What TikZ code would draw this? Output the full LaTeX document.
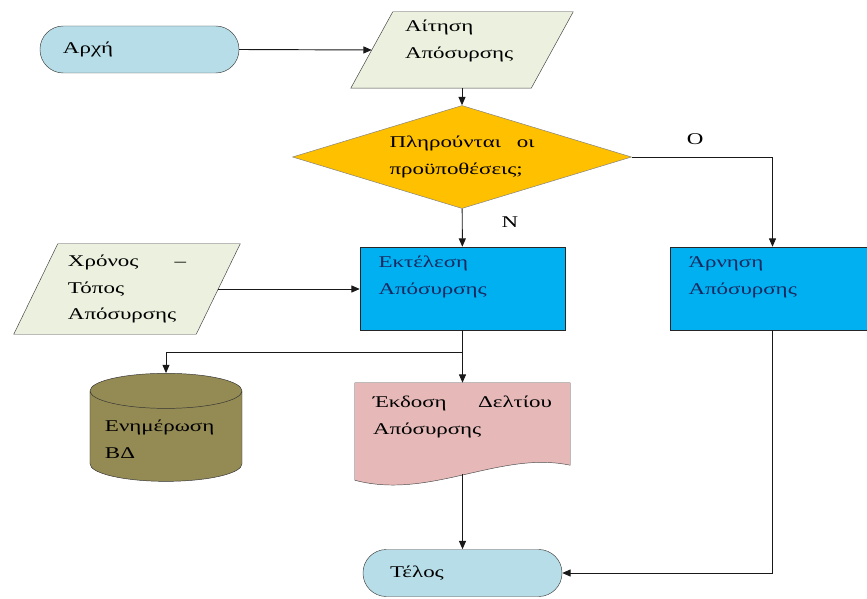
\documentclass[tikz,border=0pt]{standalone}
\usepackage{fontspec}
\setmainfont{Liberation Serif}[FakeStretch=1.4]
\usepackage{xcolor}
\usepackage{tikz}
\usetikzlibrary{shapes,arrows,arrows.meta,positioning,backgrounds,calc}

\definecolor{termblue}{HTML}{B7DEE8}
\definecolor{iofill}{HTML}{EBF1DE}
\definecolor{decgold}{HTML}{FFC000}
\definecolor{procblue}{HTML}{00B0F0}
\definecolor{dbolive}{HTML}{948A54}
\definecolor{docpink}{HTML}{E6B9B8}
\definecolor{boxtext}{RGB}{25,40,95}

% slanted in/out box drawn round a named node, #2 = half of the slant
\newcommand{\iobox}[2]{%
    \filldraw [draw=black!75, fill=iofill] ($(#1.south west)+(-#2,0)$) -- ($(#1.south east)+(-#2,0)$) -- ($(#1.north east)+(#2,0)$) -- ($(#1.north west)+(#2,0)$) -- cycle;}

\begin{document}
\begin{tikzpicture}[
    x=0.03cm, y=-0.03cm,
    font=\fontsize{14}{23}\selectfont,
    terminal/.style={rectangle, draw=black!75, fill=termblue, rounded corners=0.7cm, minimum width=5.97cm, minimum height=1.41cm, align=left},
    inout/.style={rectangle, align=left},
    decision/.style={diamond, draw=black!50, fill=decgold, aspect=3.3, minimum width=10.17cm, minimum height=3.09cm, inner sep=0pt, text width=4.35cm, align=left},
    process/.style={rectangle, draw=black!85, fill=procblue, minimum width=6.15cm, minimum height=2.49cm, text width=5.04cm, align=left, text=boxtext, text depth=45pt},
    db/.style={cylinder, draw=black!80, shape border rotate=90, fill=dbolive, aspect=0.27, minimum width=4.56cm, minimum height=3.24cm, text width=3.66cm, align=left},
    line/.style={draw=black!90, line width=0.8pt, -{Triangle[length=2.5mm, width=2.1mm]}}
]
    \useasboundingbox (0,0) rectangle (867,599);

    \node [terminal, text width=4.59cm] (start) at (139.5,49.5) {Αρχή};
    \node [inout, minimum width=5.4cm, minimum height=2.28cm, text width=3.42cm, text depth=41pt] (request) at (462,50) {Αίτηση\\Απόσυρσης};
    \node [decision] (check) at (462,157) {\hbox to \linewidth{Πληρούνται\hfill οι}\\προϋποθέσεις;};
    \node [process] (exec) at (462.5,288.5) {Εκτέλεση\\Απόσυρσης};
    \node [process] (deny) at (772.5,288.5) {Άρνηση\\Απόσυρσης};
    \node [inout, minimum width=5.46cm, minimum height=2.7cm, text width=3.54cm] (place) at (127,289) {\hbox to \linewidth{Χρόνος\hfill –}\\Τόπος\\Απόσυρσης};
    \node [db] (update) at (166,439) {Ενημέρωση\\ΒΔ};
    \node [rectangle, minimum width=6.45cm, minimum height=2.73cm, text width=5.37cm, align=left, text depth=45pt] (report) at (462.5,428.5) {\hbox to \linewidth{Έκδοση\hfill Δελτίου}\\Απόσυρσης};
    \node [terminal, text width=4.35cm] (stop) at (462.5,573) {Τέλος};

    % shapes behind the text
    \begin{scope}[on background layer]
        \iobox{request}{21}
        \iobox{place}{22}
        \filldraw [draw=black!70, fill=docpink] ($(report.south west)+(0,6)$) -- (report.north west) -- (report.north east) -- ($(report.south east)+(0,-9)$) .. controls ($(report.south)+(37.5,-24)$) and ($(report.south)+(-32.5,26)$) .. ($(report.south west)+(0,6)$) -- cycle;
    \end{scope}

    \draw [line] (start.east) -- (request.west);
    \draw [line] (request) -- (check);
    \draw [line] (check) -- node [right=1.05cm, pos=0.36] {Ν} (exec);
    \draw [line] (check.east) -| node [above=0.25cm, pos=0.225] {Ο} (deny.north);
    \draw [line] (place.east) -- (place.east -| exec.west);
    \draw [line] (exec) -- (report);
    \coordinate (split) at ($(exec.south)+(0,22)$);
    \draw [line] (split) -| (update.top);
    \draw [line] (report) -- (stop);
    \draw [line] (deny) |- (stop);
\end{tikzpicture}
\end{document}
